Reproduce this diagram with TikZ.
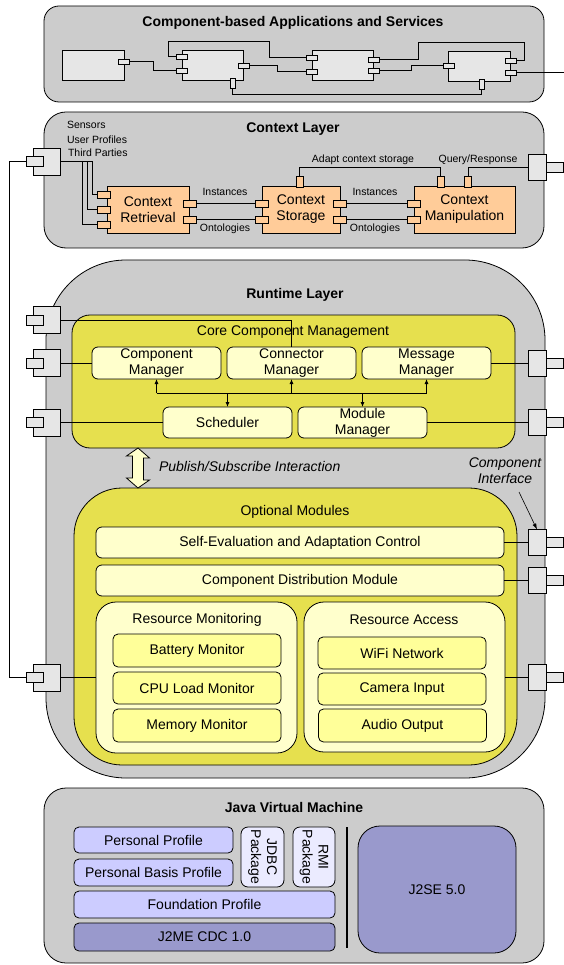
\documentclass[tikz,border=0pt]{standalone}
\usepackage{fontspec}
\setmainfont{Liberation Sans}
\usetikzlibrary{arrows.meta,calc}
\definecolor{lgray}{HTML}{CCCCCC}
\definecolor{cgray}{HTML}{E6E6E6}
\definecolor{orng}{HTML}{FFCC99}
\definecolor{yel}{HTML}{E6E04E}
\definecolor{lyel}{HTML}{FFFFCC}
\definecolor{myel}{HTML}{FFFF99}
\definecolor{prof}{HTML}{CCCCFF}
\definecolor{dprof}{HTML}{9999CC}
\definecolor{pkg}{HTML}{EBEBFF}
\begin{document}
\begin{tikzpicture}[x=1pt,y=-1pt,
  every node/.style={inner sep=0pt,outer sep=0pt,align=center,font=\fontsize{14}{16}\selectfont},
  sz/.style 2 args={minimum width=#1,minimum height=#2},
  lyr/.style={draw,fill=lgray,line width=0.8pt,rounded corners=#1},
  ttl/.style={font=\bfseries\fontsize{14}{16}\selectfont},
  smalltxt/.style={font=\fontsize{10.5}{12}\selectfont},
  cmp/.style={draw,fill=cgray,line width=0.7pt},
  hport/.style={draw,fill=cgray,line width=0.7pt,sz={11}{5}},
  vport/.style={draw,fill=cgray,line width=0.7pt,sz={5}{10}},
  ifbig/.style={draw,fill=cgray,line width=0.8pt,sz={27}{27}},
  ifbigr/.style={draw,fill=cgray,line width=0.8pt,sz={18}{26}},
  ifsmall/.style={draw,fill=cgray,line width=0.8pt,sz={17}{10}},
  ctx/.style={draw,fill=orng,line width=0.8pt},
  chport/.style={draw,fill=orng,line width=0.7pt,sz={13}{7}},
  cvport/.style={draw,fill=orng,line width=0.7pt,sz={7}{11}},
  yelbox/.style={draw,fill=yel,line width=0.8pt,rounded corners=#1},
  lybox/.style={draw,fill=lyel,line width=0.8pt,rounded corners=#1},
  mybox/.style={draw,fill=myel,line width=0.8pt,rounded corners=5pt},
  profbox/.style={draw,fill=prof,line width=0.8pt,rounded corners=5pt},
  dprofbox/.style={draw,fill=dprof,line width=0.8pt,rounded corners=#1},
  pkgbox/.style={draw,fill=pkg,line width=0.8pt,rounded corners=7pt},
  wire/.style={line width=0.8pt},
  arr/.style={line width=0.8pt,-{Latex[length=5pt,width=4pt]}}
]
\useasboundingbox (0,0) rectangle (564,965);

% ===== Component-based Applications and Services =====
\node[lyr=15pt, sz={500}{96}] (apps) at (294,54) {};
\node[ttl] (appsT) at (293,23) {Component-based Applications and Services};
\node[cmp, sz={62}{30}] (ca) at (93,65) {};
\node[cmp, sz={61}{30}] (cb) at (212.5,65) {};
\node[cmp, sz={61}{30}] (cc) at (342.5,65) {};
\node[cmp, sz={62}{30}] (cd) at (479,66) {};
\node[hport] (pa) at (123.5,61.5) {};
\node[hport] (pb1) at (181.5,56.5) {};
\node[hport] (pb2) at (181.5,70.5) {};
\node[hport] (pb3) at (243.5,65.5) {};
\node[vport] (pb4) at (232.5,83) {};
\node[hport] (pc1) at (311.5,57.5) {};
\node[hport] (pc2) at (311.5,71.5) {};
\node[hport] (pc3) at (373.5,59.5) {};
\node[hport] (pc4) at (373.5,70.5) {};
\node[hport] (pd1) at (448.5,65.5) {};
\node[hport] (pd2) at (510.5,60.5) {};
\node[hport] (pd3) at (510.5,72.5) {};
\node[vport] (pd4) at (481.5,84) {};
\coordinate (w1) at (168,41); \coordinate (w2) at (269,41);
\coordinate (w3) at (418,42); \coordinate (w4) at (524,42);
\coordinate (exr) at (564,72.5);
\draw[wire] (pa.east) -- ++(24,0) |- (pb2.west);
\draw[wire] (pb1.west) -| (w1) -- (w2) |- (pc1.west);
\draw[wire] (pb3.east) -- ++(28,0) |- (pc2.west);
\draw[wire] (pc3.east) -| (w3) -- (w4) |- (pd2.east);
\draw[wire] (pc4.east) -- ++(32,0) |- (pd1.west);
\draw[wire] (pb4.south) -- ++(0,6) -| (pd4.south);
\draw[wire] (pd3.east) -- (exr);

% ===== Context Layer =====
\node[lyr=22pt, sz={500}{136}] (ctxl) at (294,180) {};
\node[ttl] (ctxT) at (293,129) {Context Layer};
\node[smalltxt, anchor=west] (sens) at (67,125) {Sensors};
\node[smalltxt, anchor=west] (uprof) at (67,140) {User Profiles};
\node[smalltxt, anchor=west] (third) at (68,153) {Third Parties};
\node[ifbig] (li1) at (46.5,161.5) {};
\node[ifsmall] (li1s) at (34.5,161.5) {};
\node[ifbigr] (ri1) at (537,167) {};
\node[ifsmall] (ri1s) at (554.5,167) {};

\node[ctx, sz={82}{47}] (cr) at (148,209.5) {Context\\Retrieval};
\node[ctx, sz={78}{47}] (cs) at (301,209.5) {Context\\Storage};
\node[ctx, sz={101}{47}] (cm) at (464.5,209.5) {Context\\Manipulation};
\node[chport] (crl1) at (103.5,194.5) {};
\node[chport] (crl2) at (103.5,209.5) {};
\node[chport] (crl3) at (103.5,224.5) {};
\node[chport] (crr1) at (189.5,203.5) {};
\node[chport] (crr2) at (189.5,219.5) {};
\node[chport] (csl1) at (261.5,203.5) {};
\node[chport] (csl2) at (261.5,219.5) {};
\node[chport] (csr1) at (340,203.5) {};
\node[chport] (csr2) at (340,219.5) {};
\node[chport] (cml1) at (413.5,203.5) {};
\node[chport] (cml2) at (413.5,219.5) {};
\node[cvport] (cst) at (299.5,182) {};
\node[cvport] (cmt1) at (440.5,182) {};
\node[cvport] (cmt2) at (468,182) {};

\draw[wire] (li1.east) -- ++(32,0) |- (crl1.west);
\draw[wire] (li1.east) -- ++(27,0) |- (crl2.west);
\draw[wire] (li1.east) -- ++(22,0) |- (crl3.west);
\draw[wire] (crr1.east) -- (csl1.west);
\draw[wire] (crr2.east) -- (csl2.west);
\draw[wire] (csr1.east) -- (cml1.west);
\draw[wire] (csr2.east) -- (cml2.west);
\draw[wire] (cst.north) -- ++(0,-9) -| (cmt1.north);
\draw[wire] (cmt2.north) |- (ri1.west);
\node[smalltxt] (inst1) at (225,192) {Instances};
\node[smalltxt] (onto1) at (225,229) {Ontologies};
\node[smalltxt] (inst2) at (375,192) {Instances};
\node[smalltxt] (onto2) at (375,229) {Ontologies};
\node[smalltxt] (adapt) at (363,160) {Adapt context storage};
\node[smalltxt] (query) at (478,160) {Query/Response};

% ===== Runtime Layer =====
\node[lyr=80pt, sz={499}{518}] (rt) at (295.5,519) {};
\node[ttl] (rtT) at (295,295) {Runtime Layer};

\node[yelbox=18pt, sz={443}{133}] (core) at (293.5,381.5) {};
\node (coreT) at (293,332) {Core Component Management};
\node[lybox=6pt, sz={129}{32}] (compm) at (156.5,363) {Component\\Manager};
\node[lybox=6pt, sz={129}{32}] (connm) at (291.5,363) {Connector\\Manager};
\node[lybox=6pt, sz={129}{32}] (msgm) at (426.5,363) {Message\\Manager};
\node[lybox=6pt, sz={129}{31}] (sched) at (227.5,422.5) {Scheduler};
\node[lybox=6pt, sz={129}{31}] (modm) at (362.5,422.5) {Module\\Manager};
\coordinate (bus) at (0,393);
\draw[wire] (compm.south |- bus) -- (msgm.south |- bus);
\draw[arr] (compm.south |- bus) -- (compm.south);
\draw[arr] (connm.south |- bus) -- (connm.south);
\draw[arr] (msgm.south |- bus) -- (msgm.south);
\draw[arr] (sched.north |- bus) -- (sched.north);
\draw[arr] (modm.north |- bus) -- (modm.north);

\node[yelbox=48pt, sz={443}{277}] (opt) at (295.5,626.5) {};
\node (optT) at (295,512) {Optional Modules};
\node[lybox=6pt, sz={408}{31}] (selfev) at (300,542.5) {Self-Evaluation and Adaptation Control};
\node[lybox=6pt, sz={408}{31}] (cdist) at (300,580.5) {Component Distribution Module};
\node[lybox=20pt, sz={201}{151}] (resmon) at (196.5,677.5) {};
\node[lybox=20pt, sz={201}{150}] (resacc) at (404.5,677) {};
\node (resmonT) at (197,620) {Resource Monitoring};
\node (resaccT) at (404,620) {Resource Access};
\node[mybox, sz={168}{33}] (batt) at (197,650.5) {Battery Monitor};
\node[mybox, sz={168}{32}] (cpu) at (197,688) {CPU Load Monitor};
\node[mybox, sz={168}{33}] (mem) at (197,725.5) {Memory Monitor};
\node[mybox, sz={168}{32}] (wifi) at (402,653) {WiFi Network};
\node[mybox, sz={168}{32}] (cam) at (402,689) {Camera Input};
\node[mybox, sz={168}{33}] (aud) at (402.5,725.5) {Audio Output};

% interfaces of runtime layer
\node[ifbig] (li2) at (46.5,320) {};
\node[ifsmall] (li2s) at (34.5,320.5) {};
\node[ifbig] (li3) at (46.5,363) {};
\node[ifsmall] (li3s) at (34.5,363) {};
\node[ifbig] (li4) at (46.5,422.5) {};
\node[ifsmall] (li4s) at (34.5,422.5) {};
\node[ifbig] (li5) at (47,677.5) {};
\node[ifsmall] (li5s) at (34.5,677.5) {};
\node[ifbigr] (ri2) at (537,363) {};
\node[ifsmall] (ri2s) at (554.5,363) {};
\node[ifbigr] (ri3) at (537,422.5) {};
\node[ifsmall] (ri3s) at (554.5,422.5) {};
\node[ifbigr] (ri4) at (537,542.5) {};
\node[ifsmall] (ri4s) at (554.5,542.5) {};
\node[ifbigr] (ri5) at (537,580.5) {};
\node[ifsmall] (ri5s) at (554.5,580.5) {};
\node[ifbigr] (ri6) at (537,677) {};
\node[ifsmall] (ri6s) at (554.5,677) {};

\draw[wire] (li2.east) -| (connm.north);
\draw[wire] (li3.east) -- (compm.west);
\draw[wire] (li4.east) -- (sched.west);
\draw[wire] (li5.east) -- (resmon.west);
\draw[wire] (msgm.east) -- (ri2.west);
\draw[wire] (modm.east) -- (ri3.west);
\draw[wire] (selfev.east) -- (ri4.west);
\draw[wire] (cdist.east) -- (ri5.west);
\draw[wire] (resacc.east) -- (ri6.west);
\coordinate (vl) at (9.5,400);
\draw[wire] (li1s.west) -| (vl) |- (li5s.west);

% publish/subscribe double arrow
\coordinate (pa1) at (core.south -| 138,0);
\coordinate (pa2) at (opt.north -| 138,0);
\draw[line width=0.8pt, fill=lyel] (pa1) -- ++(11.5,10) -- ++(-6,0) -- ++(0,22) -- ++(6,0) -- (pa2)
  -- ++(-11.5,-10) -- ++(6,0) -- ++(0,-22) -- ++(-6,0) -- cycle;
\node[anchor=west, font=\itshape\fontsize{14}{16}\selectfont] (pubsub) at (159,466) {Publish/Subscribe Interaction};
\node[font=\itshape\fontsize{14}{16}\selectfont] (cif) at (505,471) {Component\\Interface};
\coordinate (cifa) at (519,492);
\draw[line width=0.6pt, -{Latex[length=6pt,width=4pt]}] (cifa) -- (ri4.north);

% ===== Java Virtual Machine =====
\node[lyr=22pt, sz={500}{175}] (jvm) at (294,875.5) {};
\node[ttl] (jvmT) at (294,807) {Java Virtual Machine};
\node[profbox, sz={159}{26}] (pp) at (153.5,840) {Personal Profile};
\node[profbox, sz={159}{27}] (pbp) at (153.5,872.5) {Personal Basis Profile};
\node[profbox, sz={261}{27}] (fp) at (204.5,904.5) {Foundation Profile};
\node[dprofbox=5pt, sz={261}{28}] (cdc) at (204.5,937) {J2ME CDC 1.0};
\node[pkgbox, sz={43}{60}] (jdbc) at (262.5,857) {};
\node[rotate=-90] (jdbcT) at (jdbc.center) {JDBC\\Package};
\node[pkgbox, sz={42}{60}] (rmi) at (314,857) {};
\node[rotate=-90] (rmiT) at (rmi.center) {RMI\\Package};
\coordinate (sep1) at (347,827); \coordinate (sep2) at (347,948);
\draw[line width=2pt] (sep1) -- (sep2);
\node[dprofbox=22pt, sz={158}{127}] (j2se) at (437,889.5) {J2SE 5.0};
\end{tikzpicture}
\end{document}
